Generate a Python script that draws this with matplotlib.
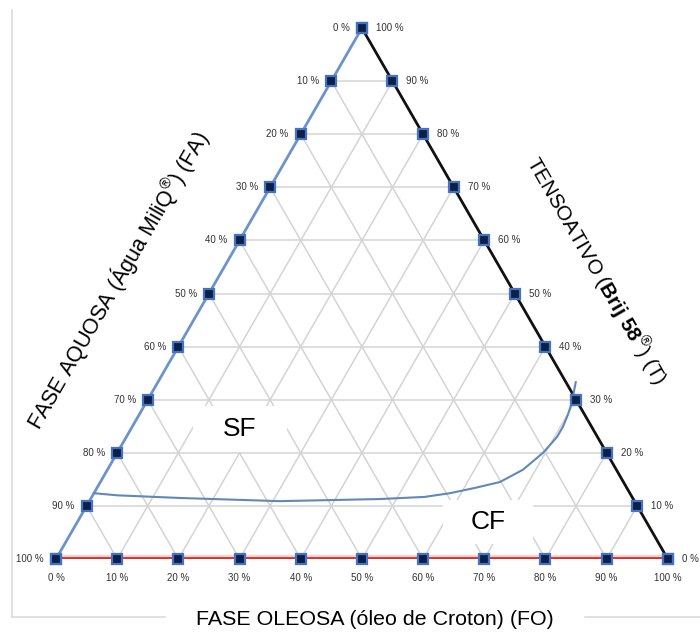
import matplotlib.pyplot as plt
import numpy as np
from matplotlib.patches import Rectangle

plt.rcParams['font.family'] = ['Liberation Sans', 'DejaVu Sans']
plt.rcParams['mathtext.fontset'] = 'custom'
plt.rcParams['mathtext.rm'] = 'Liberation Sans'
plt.rcParams['mathtext.bf'] = 'Liberation Sans:bold'

# tick levels (%) along each side
levels = [0, 10, 20, 30, 40, 50, 60, 70, 80, 90, 100]

# boundary curve, read as (FO %, T %)
curve_fo = [0.0, 4.0, 14.5, 31.1, 47.3, 54.4, 58.2, 61.8, 65.3, 67.9, 69.6,
            70.4, 70.4, 70.1, 69.6, 68.3]
curve_t = [12.4, 12.0, 11.5, 10.9, 11.3, 11.7, 12.4, 13.4, 14.5, 16.8, 20.0,
           23.0, 24.9, 27.1, 29.4, 33.3]

# region labels (FO %, T %)
regions = ['SF', 'CF']
region_fo = [17.8, 67.1]
region_t = [24.5, 7.0]

H = np.sqrt(3) / 2


def tern(fo, t):
    fo = np.asarray(fo, dtype=float) / 100
    t = np.asarray(t, dtype=float) / 100
    return fo + t / 2, t * H


fig = plt.figure(figsize=(7, 6.37), dpi=100)
ax = fig.add_axes([0.08, 0.1224, 0.874, 0.8336])
ax.set_xlim(0, 1)
ax.set_ylim(0, H)
ax.axis('off')

grid_kw = dict(color='#d4d4d4', lw=1.1, zorder=1)
for v in levels[1:-1]:
    # constant T (horizontal)
    x, y = tern([0, 100 - v], [v, v])
    ax.plot(x, y, **grid_kw)
    # constant FO
    x, y = tern([v, v], [0, 100 - v])
    ax.plot(x, y, **grid_kw)
    # constant FA
    x, y = tern([v, 0], [0, v])
    ax.plot(x, y, **grid_kw)

# white boxes behind region labels
box_w = [0.154, 0.147]
box_h = [0.074, 0.072]
for name, fo, t, w, h in zip(regions, region_fo, region_t, box_w, box_h):
    cx, cy = tern(fo, t)
    ax.add_patch(Rectangle((cx - w / 2, cy - h / 2), w, h, facecolor='white',
                           edgecolor='none', zorder=2))
    ax.text(cx, cy, name, fontsize=19, ha='center', va='center', zorder=3)

# sides
x, y = tern([0, 0], [0, 100])
ax.plot(x, y, color='#6d93cc', lw=2, zorder=4, solid_capstyle='butt')
x, y = tern([0, 100], [100, 0])
ax.plot(x, y, color='#111111', lw=2, zorder=4)
x, y = tern([0, 100], [0, 0])
ax.plot(x, y, color='#f5b5b5', lw=6, zorder=4, alpha=0.6)
ax.plot(x, y, color='#e0302a', lw=2.8, zorder=4)

# boundary curve
x, y = tern(curve_fo, curve_t)
ax.plot(x, y, color='#6188b8', lw=1.5, zorder=5, clip_on=False,
        solid_joinstyle='round')

# tick markers
mk = dict(marker='s', ms=6.5, mfc='#0d1f45', mec='#4472c4', mew=1.6,
          ls='none', zorder=6, clip_on=False)
zeros = [0] * len(levels)
x, y = tern(zeros, levels)
ax.plot(x, y, **mk)
x, y = tern([100 - v for v in levels], levels)
ax.plot(x, y, **mk)
x, y = tern(levels, zeros)
ax.plot(x, y, **mk)

lab = dict(fontsize=7, color='#333333', textcoords='offset pixels')
for v in levels:
    # left side: FA
    x, y = tern(0, v)
    ax.annotate(f'{100 - v} %', (x, y), xytext=(-12, 0), ha='right', va='center', **lab)
    # right side: T
    x, y = tern(100 - v, v)
    ax.annotate(f'{v} %', (x, y), xytext=(14, 0), ha='left', va='center', **lab)
    # bottom: FO
    x, y = tern(v, 0)
    ax.annotate(f'{v} %', (x, y), xytext=(0, -19), ha='center', va='center', **lab)

# axis titles
fig.text(0.536, 0.028, 'FASE OLEOSA (óleo de Croton) (FO)', fontsize=15.4,
         ha='center', va='center')
fig.text(0.1686, 0.559, r'FASE AQUOSA (Água MiliQ$^{®}$) (FA)', fontsize=15.5,
         ha='center', va='center', rotation=60, rotation_mode='anchor')
fig.text(0.853, 0.576, r'TENSOATIVO ($\mathbf{Brij\ 58}^{®}$) (T)', fontsize=14.8,
         ha='center', va='center', rotation=-60, rotation_mode='anchor')

# frame remnants
frame_kw = dict(color='#dcdcdc', lw=1.2, transform=fig.transFigure)
fig.add_artist(plt.Line2D([12 / 700, 12 / 700], [1 - 10 / 637, 1 - 617 / 637], **frame_kw))
fig.add_artist(plt.Line2D([12 / 700, 165 / 700], [1 - 617 / 637] * 2, **frame_kw))
fig.add_artist(plt.Line2D([585 / 700, 1.0], [1 - 617 / 637] * 2, **frame_kw))

fig.savefig('out.png', dpi=100)
